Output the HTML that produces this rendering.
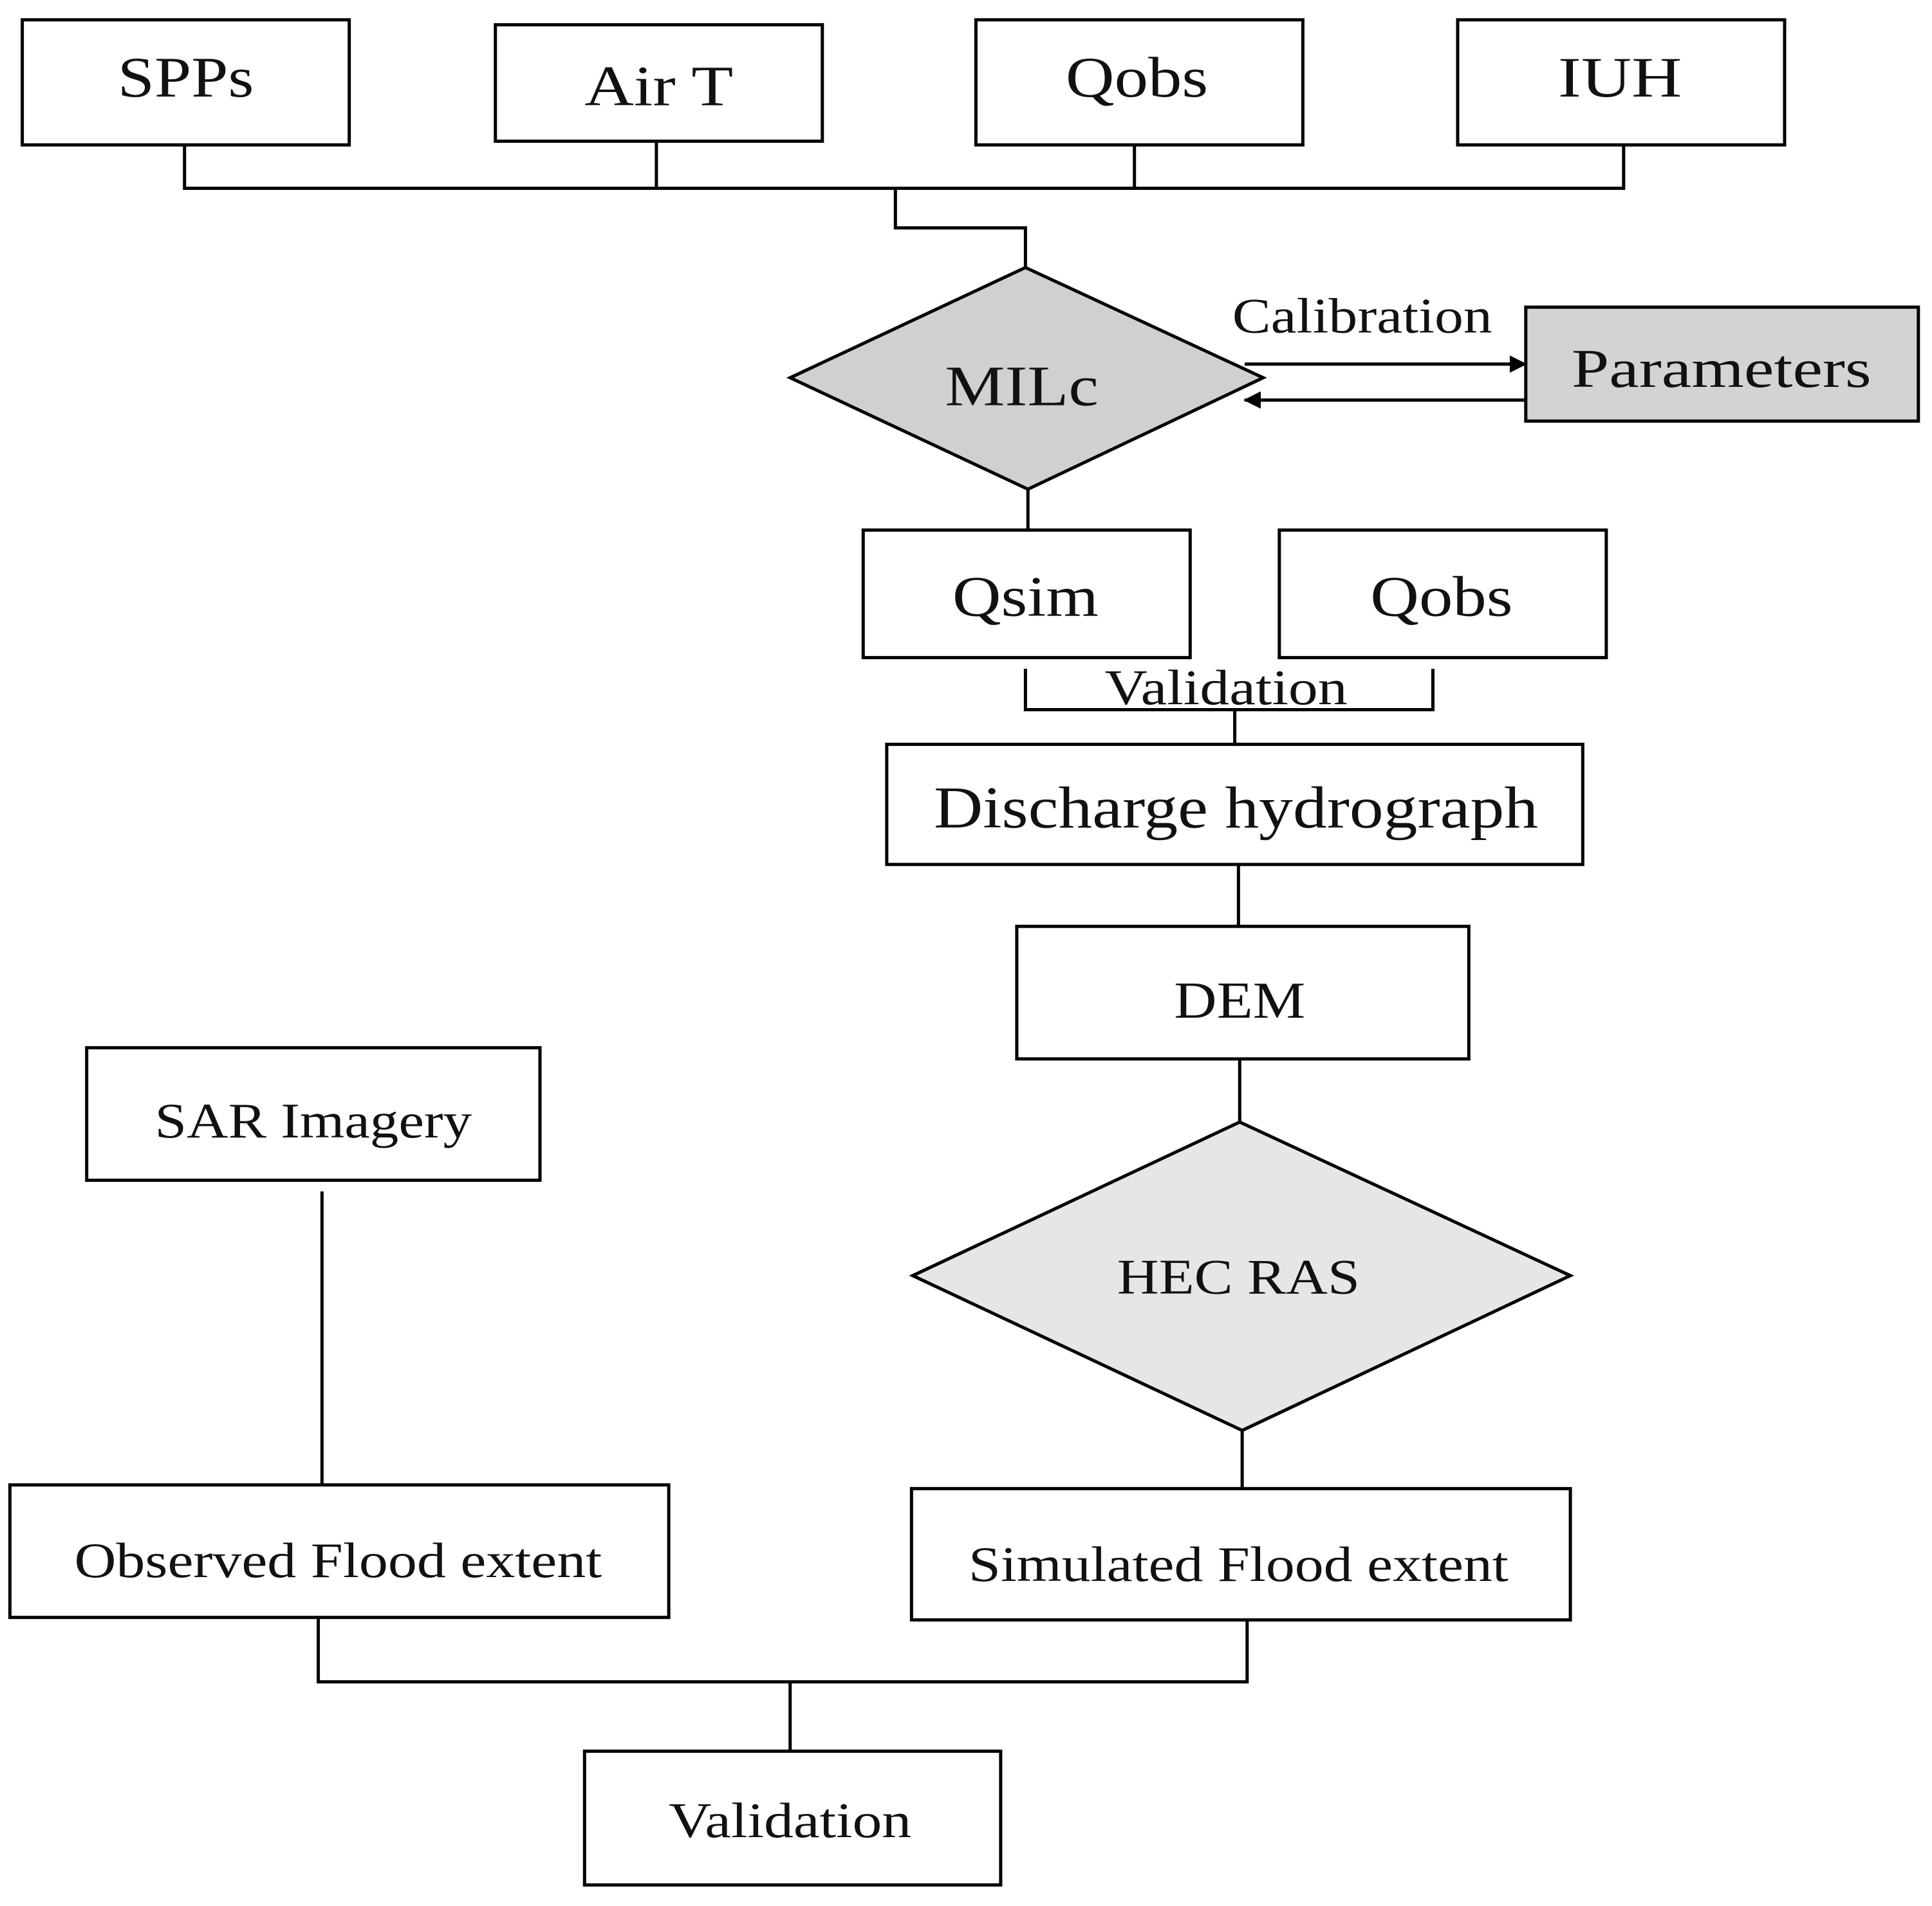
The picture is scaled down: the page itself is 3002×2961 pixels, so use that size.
<!DOCTYPE html>
<html><head><meta charset="utf-8"><style>
html,body{margin:0;padding:0;background:#fff;}
svg{display:block;}
text{font-family:"Liberation Serif",serif;fill:#111;text-anchor:middle;dominant-baseline:central;}
</style></head><body>
<svg width="3002" height="2961" viewBox="0 0 1560 1539" preserveAspectRatio="none" xmlns="http://www.w3.org/2000/svg">
<defs>
<marker id="ah" markerWidth="10" markerHeight="10" refX="9" refY="5" orient="auto" markerUnits="userSpaceOnUse">
<path d="M0,0 L10,5 L0,10 z" fill="#000"/>
</marker>
<marker id="ah2" markerWidth="14" markerHeight="14" refX="13" refY="7" orient="auto" markerUnits="userSpaceOnUse">
<path d="M0,0 L14,7 L0,14 z" fill="#000"/>
</marker>
</defs>
<g fill="#fff" stroke="#000" stroke-width="2.6">
<rect x="18" y="16" width="264" height="101"/>
<rect x="400" y="20" width="264" height="94"/>
<rect x="788" y="16" width="264" height="101"/>
<rect x="1177" y="16" width="264" height="101"/>
<polygon points="638,305 828,216 1020,305 830,395" fill="#d0d0d0"/>
<rect x="1232" y="248" width="317" height="92" fill="#d3d3d3"/>
<rect x="697" y="428" width="264" height="103"/>
<rect x="1033" y="428" width="264" height="103"/>
<rect x="716" y="601" width="562" height="97"/>
<rect x="821" y="748" width="365" height="107"/>
<polygon points="737,1030 1001,906 1268,1030 1003,1155" fill="#e6e6e6"/>
<rect x="736" y="1202" width="532" height="106"/>
<rect x="70" y="846" width="366" height="107"/>
<rect x="8" y="1199" width="532" height="107"/>
<rect x="472" y="1414" width="336" height="108"/>
</g>
<g fill="none" stroke="#000" stroke-width="2.6">
<polyline points="149,117 149,152 1311,152 1311,117"/>
<line x1="530" y1="114" x2="530" y2="152"/>
<line x1="916" y1="117" x2="916" y2="152"/>
<polyline points="723,152 723,184 828,184 828,216"/>
<line x1="1005" y1="294" x2="1232" y2="294" marker-end="url(#ah2)"/>
<line x1="1232" y1="323" x2="1005" y2="323" marker-end="url(#ah2)"/>
<line x1="830" y1="395" x2="830" y2="428"/>
<polyline points="828,540 828,573 1157,573 1157,540"/>
<line x1="997" y1="573" x2="997" y2="601"/>
<line x1="1000" y1="698" x2="1000" y2="748"/>
<line x1="1001" y1="855" x2="1001" y2="906"/>
<line x1="1003" y1="1155" x2="1003" y2="1202"/>
<line x1="260" y1="962" x2="260" y2="1199"/>
<polyline points="257,1306 257,1358 1007,1358 1007,1308"/>
<line x1="638" y1="1358" x2="638" y2="1414"/>
</g>
<text x="150" y="63" font-size="46" textLength="110" lengthAdjust="spacingAndGlyphs">SPPs</text>
<text x="532" y="70" font-size="46" textLength="120" lengthAdjust="spacingAndGlyphs">Air T</text>
<text x="918" y="63" font-size="46" textLength="115" lengthAdjust="spacingAndGlyphs">Qobs</text>
<text x="1308" y="63" font-size="46" textLength="100" lengthAdjust="spacingAndGlyphs">IUH</text>
<text x="825" y="312" font-size="46" textLength="124" lengthAdjust="spacingAndGlyphs">MILc</text>
<text x="1100" y="255" font-size="40" textLength="210" lengthAdjust="spacingAndGlyphs">Calibration</text>
<text x="1390" y="298" font-size="44" textLength="242" lengthAdjust="spacingAndGlyphs">Parameters</text>
<text x="828" y="482" font-size="46" textLength="118" lengthAdjust="spacingAndGlyphs">Qsim</text>
<text x="1164" y="482" font-size="46" textLength="115" lengthAdjust="spacingAndGlyphs">Qobs</text>
<text x="990" y="555" font-size="40" textLength="196" lengthAdjust="spacingAndGlyphs">Validation</text>
<text x="998" y="652" font-size="48" textLength="488" lengthAdjust="spacingAndGlyphs">Discharge hydrograph</text>
<text x="1001" y="808" font-size="42" textLength="106" lengthAdjust="spacingAndGlyphs">DEM</text>
<text x="1000" y="1031" font-size="40" textLength="196" lengthAdjust="spacingAndGlyphs">HEC RAS</text>
<text x="1000" y="1263" font-size="40" textLength="436" lengthAdjust="spacingAndGlyphs">Simulated Flood extent</text>
<text x="253" y="905" font-size="40" textLength="256" lengthAdjust="spacingAndGlyphs">SAR Imagery</text>
<text x="273" y="1260" font-size="40" textLength="426" lengthAdjust="spacingAndGlyphs">Observed Flood extent</text>
<text x="638" y="1470" font-size="40" textLength="196" lengthAdjust="spacingAndGlyphs">Validation</text>
</svg>
</body></html>
